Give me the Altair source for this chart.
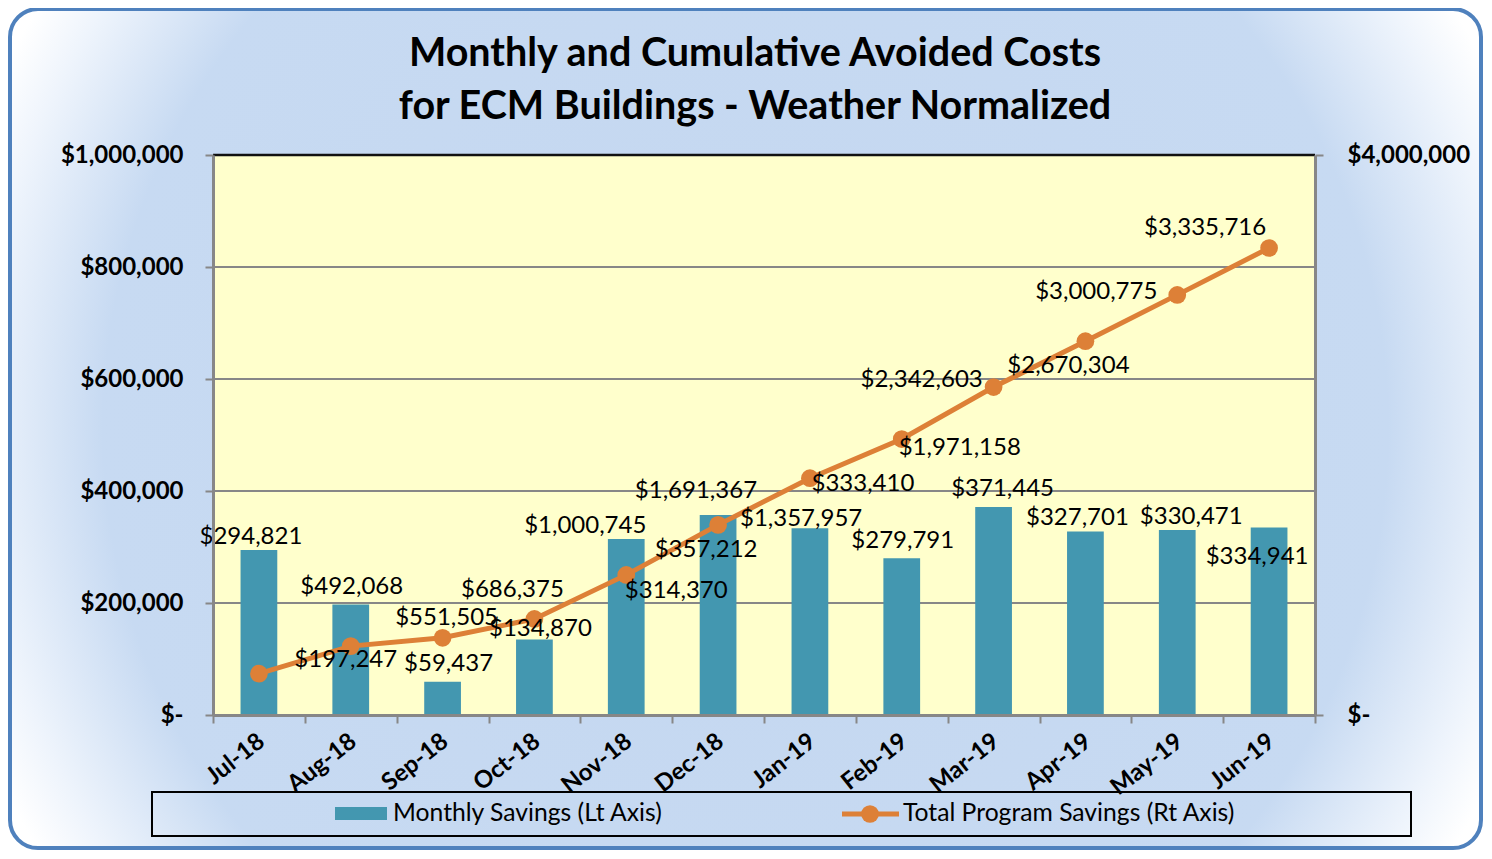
import altair as alt
import pandas as pd

# ---------------- data ----------------
MONTHS = ["Jul-18", "Aug-18", "Sep-18", "Oct-18", "Nov-18", "Dec-18",
          "Jan-19", "Feb-19", "Mar-19", "Apr-19", "May-19", "Jun-19"]
MONTHLY = [294821, 197247, 59437, 134870, 314370, 357212,
           333410, 279791, 371445, 327701, 330471, 334941]
TOTAL = [294821, 492068, 551505, 686375, 1000745, 1357957,
         1691367, 1971158, 2342603, 2670304, 3000775, 3335716]
LEFT_TICKS = [0, 200000, 400000, 600000, 800000, 1000000]
GRID_VALUES = [200000, 400000, 600000, 800000]
TOP_VALUE = [1000000]
RIGHT_TICKS = [0, 4000000]
TITLE = ["Monthly and Cumulative Avoided Costs",
         "for ECM Buildings - Weather Normalized"]
LEGEND_LABELS = ["Monthly Savings (Lt Axis)", "Total Program Savings (Rt Axis)"]

# label placement (pixel offsets, styling only)
BAR_LABEL_OFFSETS = [(-8, -13), (-5, 55), (6, -18), (6, -10), (50, 52), (-12, 35),
                     (53, -44), (1, -17), (9, -18), (-8, -13), (14, -13), (-12, 30)]
LINE_LABEL_OFFSETS = [None, (1, -59), (4, -20), (-22, -29), (-41, -49), (83, -6),
                      (-114, 13), (58, 9), (-72, -7), (-17, 25), (-81, -3), (-64, -20)]

# ---------------- style ----------------
FONT = "Lato"
TEAL = "#4397B0"
ORANGE = "#DD8037"
GRAY = "#878787"
W, H = 1102, 560
PAD = {"left": 205, "top": 147, "right": 169, "bottom": 135}
LABEL_SIZE = 24
DOT_SIZE = 314

df = pd.DataFrame({"month": MONTHS, "monthly": MONTHLY, "total": TOTAL})
one = pd.DataFrame({"k": [0]})

x_axis = alt.Axis(title=None, labelAngle=-38, labelFont=FONT, labelFontWeight="bold",
                  labelFontSize=24, labelColor="black", tickBand="extent", tickSize=8,
                  tickColor=GRAY, tickWidth=2, domainColor=GRAY, domainWidth=3,
                  labelPadding=6, labelOffset=-5, zindex=1)
x = alt.X("month:N", sort=MONTHS, scale=alt.Scale(paddingInner=0, paddingOuter=0), axis=x_axis)

ys_left = alt.Scale(domain=[0, 1000000], nice=False)
ys_right = alt.Scale(domain=[0, 4000000], nice=False)

y_left_axis = alt.Axis(values=LEFT_TICKS,
                       labelExpr="datum.value == 0 ? '$-\u00a0\u00a0' : '$' + format(datum.value, ',')",
                       title=None, grid=False, orient="left", tickSize=8, tickColor=GRAY,
                       tickWidth=2, domainColor=GRAY, domainWidth=3, labelFont=FONT,
                       labelFontWeight="bold", labelFontSize=24, labelColor="black",
                       labelPadding=22, zindex=1)
y_right_axis = alt.Axis(values=RIGHT_TICKS,
                        labelExpr="datum.value == 0 ? '$-' : '$' + format(datum.value, ',')",
                        title=None, grid=False, orient="right", tickSize=8, tickColor=GRAY,
                        tickWidth=2, domainColor=GRAY, domainWidth=3, labelFont=FONT,
                        labelFontWeight="bold", labelFontSize=24, labelColor="black",
                        labelPadding=24, zindex=1)

# ---------------- decoration ----------------
bg = alt.Chart(one).mark_rect(
    cornerRadius=28, stroke="#4F81BD", strokeWidth=4,
    fill=alt.RadialGradient(gradient="radial", x1=0.5, y1=0.5, r1=0, x2=0.5, y2=0.5, r2=0.56,
                            stops=[alt.GradientStop(color="#C4D7F0", offset=0),
                                   alt.GradientStop(color="#C7DAF2", offset=0.78),
                                   alt.GradientStop(color="#EEF4FC", offset=0.93),
                                   alt.GradientStop(color="#FFFFFF", offset=1)])
).encode(x=alt.value(-203), x2=alt.value(W + PAD["right"] - 3),
         y=alt.value(-146), y2=alt.value(H + PAD["bottom"] - 2))

plot_bg = alt.Chart(one).mark_rect(fill="#FFFFCC").encode(
    x=alt.value(0), x2=alt.value(W), y=alt.value(0), y2=alt.value(H))

# ---------------- left (monthly) ----------------
grid = alt.Chart(pd.DataFrame({"v": GRID_VALUES})).mark_rule(color=GRAY, strokeWidth=2).encode(
    y=alt.Y("v:Q", scale=ys_left, axis=None))
top = alt.Chart(pd.DataFrame({"v": TOP_VALUE})).mark_rule(color="#111111", strokeWidth=2.5).encode(
    y=alt.Y("v:Q", scale=ys_left, axis=None))
bars = alt.Chart(df).mark_bar(color=TEAL, width=alt.RelativeBandSize(0.4)).encode(
    x=x, y=alt.Y("monthly:Q", scale=ys_left, axis=y_left_axis))

bar_labels = []
for m, off in zip(MONTHS, BAR_LABEL_OFFSETS):
    bar_labels.append(
        alt.Chart(df).transform_filter(alt.datum.month == m).mark_text(
            dx=off[0], dy=off[1], font=FONT, fontSize=LABEL_SIZE, color="black", baseline="middle"
        ).encode(x=x, y=alt.Y("monthly:Q", scale=ys_left, axis=None),
                 text=alt.Text("monthly:Q", format="$,.0f"))
    )

# ---------------- right (cumulative) ----------------
line = alt.Chart(df).mark_line(color=ORANGE, strokeWidth=5).encode(
    x=x, y=alt.Y("total:Q", scale=ys_right, axis=y_right_axis))
points = alt.Chart(df).mark_circle(color=ORANGE, size=DOT_SIZE, opacity=1).encode(
    x=x, y=alt.Y("total:Q", scale=ys_right, axis=None))
line_labels = []
for m, off in zip(MONTHS, LINE_LABEL_OFFSETS):
    if off is None:
        continue
    line_labels.append(
        alt.Chart(df).transform_filter(alt.datum.month == m).mark_text(
            dx=off[0], dy=off[1], font=FONT, fontSize=LABEL_SIZE, color="black", baseline="middle"
        ).encode(x=x, y=alt.Y("total:Q", scale=ys_right, axis=None),
                 text=alt.Text("total:Q", format="$,.0f"))
    )

# ---------------- legend ----------------
leg_box = alt.Chart(one).mark_rect(fillOpacity=0, stroke="black", strokeWidth=2).encode(
    x=alt.value(-61), x2=alt.value(1198), y=alt.value(637), y2=alt.value(681))
leg_bar = alt.Chart(one).mark_rect(color=TEAL).encode(
    x=alt.value(122), x2=alt.value(174), y=alt.value(652), y2=alt.value(665))
leg_line = alt.Chart(one).mark_rule(color=ORANGE, strokeWidth=5).encode(
    x=alt.value(629), x2=alt.value(686), y=alt.value(659))
leg_dot = alt.Chart(one).mark_circle(color=ORANGE, size=DOT_SIZE, opacity=1).encode(
    x=alt.value(657), y=alt.value(659))
leg_t1 = alt.Chart(pd.DataFrame({"label": [LEGEND_LABELS[0]]})).mark_text(
    align="left", baseline="middle", font=FONT, fontSize=24.7, color="black").encode(
    x=alt.value(180), y=alt.value(659), text="label:N")
leg_t2 = alt.Chart(pd.DataFrame({"label": [LEGEND_LABELS[1]]})).mark_text(
    align="left", baseline="middle", font=FONT, fontSize=24.7, color="black").encode(
    x=alt.value(690), y=alt.value(659), text="label:N")

# ---------------- title ----------------
title1 = alt.Chart(pd.DataFrame({"t": [TITLE[0]]})).mark_text(
    align="center", baseline="middle", font=FONT, fontSize=39.5, fontWeight="bold", color="black"
).encode(x=alt.value(542), y=alt.value(-101), text="t:N")
title2 = alt.Chart(pd.DataFrame({"t": [TITLE[1]]})).mark_text(
    align="center", baseline="middle", font=FONT, fontSize=39.5, fontWeight="bold", color="black"
).encode(x=alt.value(542), y=alt.value(-48), text="t:N")

chart = alt.layer(
    bg, plot_bg, grid, top, bars, line, points, *bar_labels, *line_labels,
    leg_box, leg_bar, leg_line, leg_dot, leg_t1, leg_t2, title1, title2
).resolve_scale(y="independent").properties(
    width=W, height=H,
    autosize=alt.AutoSizeParams(type="none"),
    padding=PAD,
    background="white",
).configure_view(strokeWidth=0)

chart.save("out.html", embed_options={"renderer": "svg", "actions": False})
